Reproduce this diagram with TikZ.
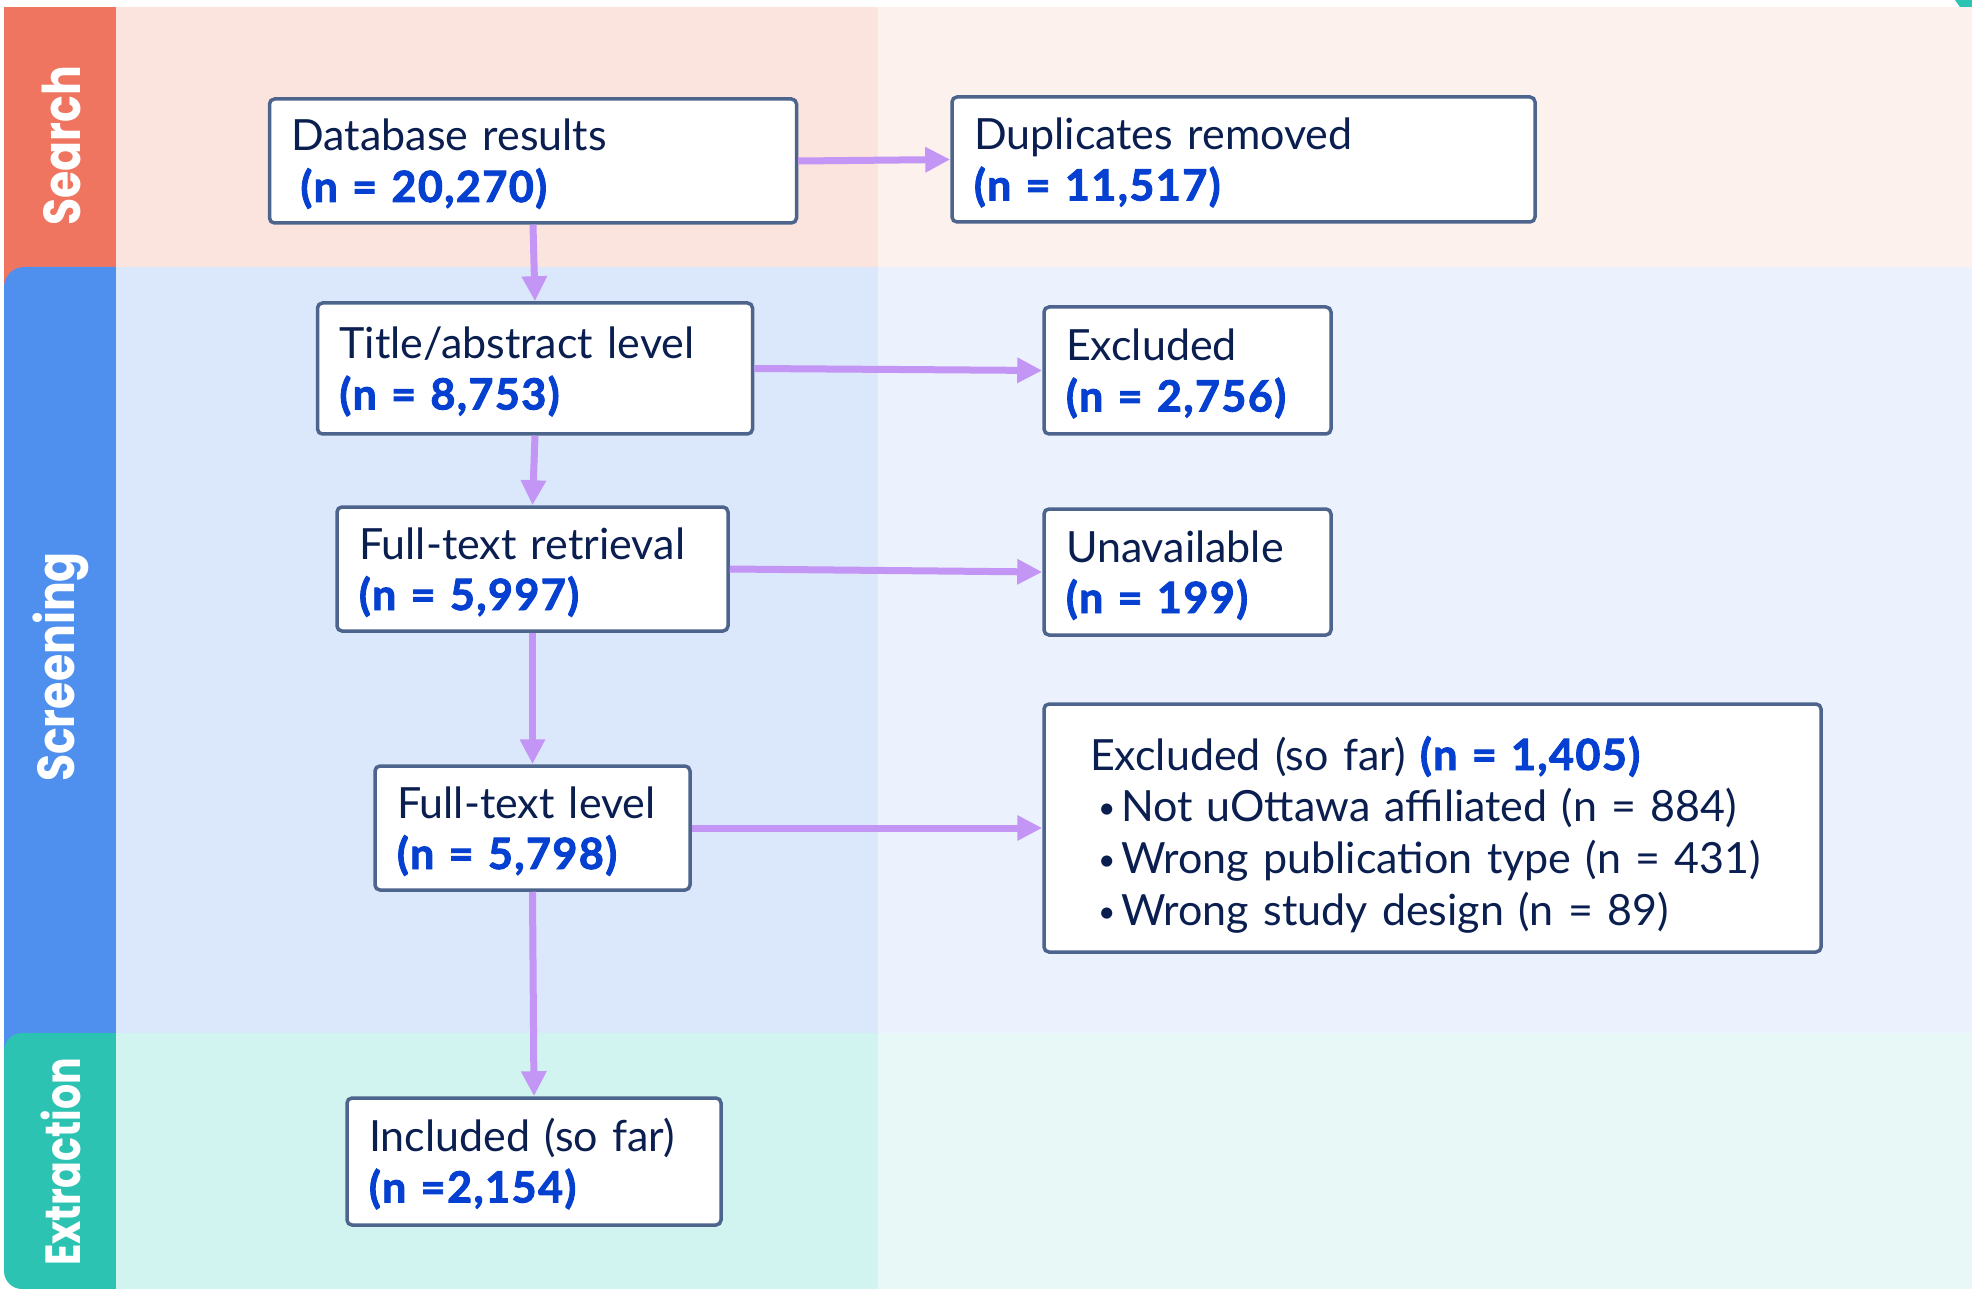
\documentclass[tikz,border=0pt]{standalone}
\usepackage{fontspec}
\setmainfont{Lato}[BoldFeatures={FakeBold=2.2,LetterSpace=3.5}]
\newfontfamily\stripfont{Poppins}
\usetikzlibrary{arrows.meta}
\definecolor{srchS}{RGB}{239,117,96}
\definecolor{srchL}{RGB}{252,228,222}
\definecolor{srchR}{RGB}{253,241,237}
\definecolor{scrS}{RGB}{79,143,238}
\definecolor{scrL}{RGB}{219,232,251}
\definecolor{scrR}{RGB}{236,242,253}
\definecolor{extS}{RGB}{45,195,179}
\definecolor{extL}{RGB}{210,244,240}
\definecolor{extR}{RGB}{232,248,246}
\definecolor{boxc}{RGB}{77,101,140}
\definecolor{txtc}{RGB}{10,30,80}
\definecolor{numc}{RGB}{5,64,208}
\definecolor{arrc}{RGB}{195,150,245}
\newcommand{\num}[1]{{\bfseries\color{numc}#1}}
\newcommand{\bul}{\hspace*{4pt}\makebox[11.5pt][l]{\raisebox{1.5pt}{\fontsize{15}{15}\selectfont•}}}
\begin{document}
\begin{tikzpicture}[x=0.5pt,y=-0.5pt,
  flowbox/.style={draw=boxc, line width=1.75pt, fill=white, rounded corners=2.5pt,
    align=left, inner xsep=11pt, inner ysep=0pt, text=txtc,
    font=\fontsize{21.5}{25.5}\selectfont,
    text height=0pt, text depth=10pt},
  arr/.style={draw=arrc, line width=3.5pt, -{Triangle[length=12.5pt,width=12pt]}},
  striplabel/.style={text=white, rotate=90, font=\stripfont\bfseries\fontsize{26}{30}\selectfont, inner sep=0pt}
]
\useasboundingbox (0,0) rectangle (1972,1289);
\fill[white] (0,0) rectangle (1972,1289);
% strips
\fill[srchS] (4,7) rectangle (150,300);
\fill[scrS, rounded corners=10pt] (4,267) rectangle (150,1070);
\fill[extS, rounded corners=9pt] (4,1033) rectangle (150,1289);
% panels
\fill[srchL] (116,7) rectangle (878,267);
\fill[srchR] (878,7) rectangle (1972,267);
\fill[scrL] (116,267) rectangle (878,1033);
\fill[scrR] (878,267) rectangle (1972,1033);
\fill[extL] (116,1033) rectangle (878,1289);
\fill[extR] (878,1033) rectangle (1972,1289);
\fill[extS] (1955,0) -- (1972,0) -- (1972,7) -- (1960,7) -- cycle;
% strip labels
\node[striplabel, xscale=0.85] (lsearch) at (61,146) {Search};
\node[striplabel, xscale=0.85] (lscreen) at (61,667) {Screening};
\node[striplabel, xscale=0.76, yscale=0.95] (lextract) at (61,1162) {Extraction};
% boxes
\node[flowbox, text width=241.5pt, minimum height=62pt] (db) at (533,161)
  {Database results\\\hspace*{4.5pt}\num{(n = 20,270)}};
\node[flowbox, text width=269.5pt, minimum height=62.5pt] (dup) at (1243.5,159.5)
  {Duplicates removed\\\num{(n = 11,517)}};
\node[flowbox, text width=195.5pt, minimum height=65.5pt] (title) at (535,368.5)
  {Title/abstract level\\\num{(n = 8,753)}};
\node[flowbox, text width=121.5pt, minimum height=63.5pt] (excl) at (1187.5,370.5)
  {Excluded\\\num{(n = 2,756)}};
\node[flowbox, text width=173.5pt, minimum height=62pt] (ret) at (532.5,569)
  {Full-text retrieval\\\num{(n = 5,997)}};
\node[flowbox, text width=121.5pt, minimum height=63pt] (unav) at (1187.5,572)
  {Unavailable\\\num{(n = 199)}};
\node[flowbox, text width=135.5pt, minimum height=62pt] (ftl) at (532.5,828)
  {Full-text level\\\num{(n = 5,798)}};
\node[flowbox, text width=342.5pt, inner xsep=23pt, minimum height=124pt,
  font=\fontsize{21.5}{25.9}\selectfont,
  text height=0pt, text depth=58pt] (excl2) at (1432.5,828)
  {Excluded (so far) \num{(n = 1,405)}\\
   \bul Not uOttawa affiliated (n = 884)\\
   \bul Wrong publication type (n = 431)\\
   \bul Wrong study design (n = 89)};
\node[flowbox, text width=165pt, minimum height=63.5pt] (incl) at (534,1161.5)
  {Included (so far)\\\num{(n =2,154)}};
% connectors
\draw[arr] (db.east) -- (dup.west);
\draw[arr] (db.south) -- (title.north);
\draw[arr] (title.east) -- (excl.west);
\draw[arr] (title.south) -- (ret.north);
\draw[arr] (ret.east) -- (unav.west);
\draw[arr] (ret.south) -- (ftl.north);
\draw[arr] (ftl.east) -- (excl2.west);
\draw[arr] (ftl.south) -- (incl.north);
\end{tikzpicture}
\end{document}
